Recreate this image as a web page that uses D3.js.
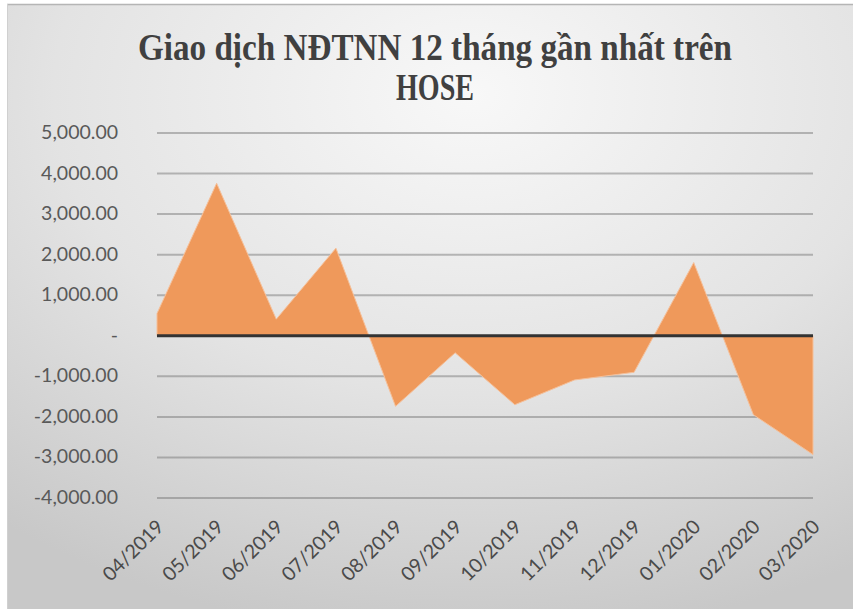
<!DOCTYPE html>
<html>
<head>
<meta charset="utf-8">
<script src="https://cdn.jsdelivr.net/npm/d3@7"></script>
<style>
  body { margin: 0; background: #fff; }
  svg { display: block; }
</style>
</head>
<body>
<svg id="chart" width="853" height="612"></svg>
<script>
// data
var months = ['04/2019', '05/2019', '06/2019', '07/2019', '08/2019', '09/2019',
  '10/2019', '11/2019', '12/2019', '01/2020', '02/2020', '03/2020']
var netValues = [550, 3760, 410, 2160, -1740, -420, -1700, -1090, -900, 1805, -1945, -2930]
var yTicks = [5000, 4000, 3000, 2000, 1000, 0, -1000, -2000, -3000, -4000]
var titleLines = ['Giao dịch NĐTNN 12 tháng gần nhất trên', 'HOSE']

var svg = d3.select('#chart'),
  margin = {top: 133, right: 40, bottom: 114, left: 157},
  width = +svg.attr('width') - margin.left - margin.right,
  height = +svg.attr('height') - margin.top - margin.bottom

var defs = svg.append('defs')
var grad = defs.append('radialGradient')
  .attr('id', 'bg-grad')
  .attr('cx', '55%').attr('cy', '15%').attr('r', '90%')
grad.append('stop').attr('offset', '0%').attr('stop-color', '#f8f8f8')
grad.append('stop').attr('offset', '55%').attr('stop-color', '#e3e3e3')
grad.append('stop').attr('offset', '100%').attr('stop-color', '#c8c8c8')

// chart background
svg.append('rect')
  .attr('x', 7).attr('y', 4)
  .attr('width', 846).attr('height', 605)
  .attr('fill', 'url(#bg-grad)')
svg.append('line')
  .attr('x1', 7).attr('x2', 853).attr('y1', 4.5).attr('y2', 4.5)
  .attr('stroke', '#b5b5b5').attr('stroke-width', 1.5)
svg.append('line')
  .attr('x1', 7.5).attr('x2', 7.5).attr('y1', 4).attr('y2', 609)
  .attr('stroke', '#d0d0d0').attr('stroke-width', 1)

var x = d3.scalePoint().domain(months).range([0, width])
var y = d3.scaleLinear().domain([-4000, 5000]).range([height, 0])

var g = svg.append('g')
  .attr('transform', 'translate(' + margin.left + ',' + margin.top + ')')

// title
svg.append('g').selectAll('text')
  .data(titleLines)
  .enter().append('text')
  .attr('x', 435)
  .attr('y', function (d, i) { return 60 + i * 40 })
  .attr('text-anchor', 'middle')
  .attr('font-family', '"Liberation Serif", serif')
  .attr('font-weight', 'bold')
  .attr('font-size', 37)
  .attr('fill', '#404040')
  .attr('textLength', function (d, i) { return i === 0 ? 594 : 78 })
  .attr('lengthAdjust', 'spacingAndGlyphs')
  .text(function (d) { return d })

// gridlines
g.append('g')
  .selectAll('line')
  .data(yTicks.filter(function (d) { return d !== 0 }))
  .enter().append('line')
  .attr('x1', 0)
  .attr('x2', width)
  .attr('y1', function (d) { return y(d) })
  .attr('y2', function (d) { return y(d) })
  .attr('stroke', 'rgba(110,110,110,0.45)')
  .attr('stroke-width', 2)

// y labels, plain hyphen as minus like the original
var fmt = d3.format(',.2f')
g.append('g')
  .selectAll('text')
  .data(yTicks)
  .enter().append('text')
  .attr('x', -39)
  .attr('y', function (d) { return y(d) + 6 })
  .attr('text-anchor', 'end')
  .attr('font-family', 'Lato, sans-serif')
  .attr('font-size', 19.5)
  .attr('fill', '#595959')
  .text(function (d) { return d === 0 ? '-' : fmt(d).replace('\u2212', '-') })

// area
var area = d3.area()
  .x(function (d, i) { return x(months[i]) })
  .y0(y(0))
  .y1(function (d) { return y(d) })

g.append('path')
  .datum(netValues)
  .attr('d', area)
  .attr('fill', '#ef995b')
  .attr('stroke', '#f5c09a')
  .attr('stroke-width', 1)

// zero axis line
g.append('line')
  .attr('x1', 0)
  .attr('x2', width)
  .attr('y1', y(0))
  .attr('y2', y(0))
  .attr('stroke', '#333')
  .attr('stroke-width', 3)

// x labels
g.append('g')
  .selectAll('text')
  .data(months)
  .enter().append('text')
  .attr('transform', function (d) {
    return 'translate(' + (x(d) + 8) + ',' + (height + 30) + ') rotate(-45)'
  })
  .attr('text-anchor', 'end')
  .attr('font-family', 'Lato, sans-serif')
  .attr('font-size', 19.5)
  .attr('fill', '#4a4a4a')
  .text(function (d) { return d })
</script>
</body>
</html>
